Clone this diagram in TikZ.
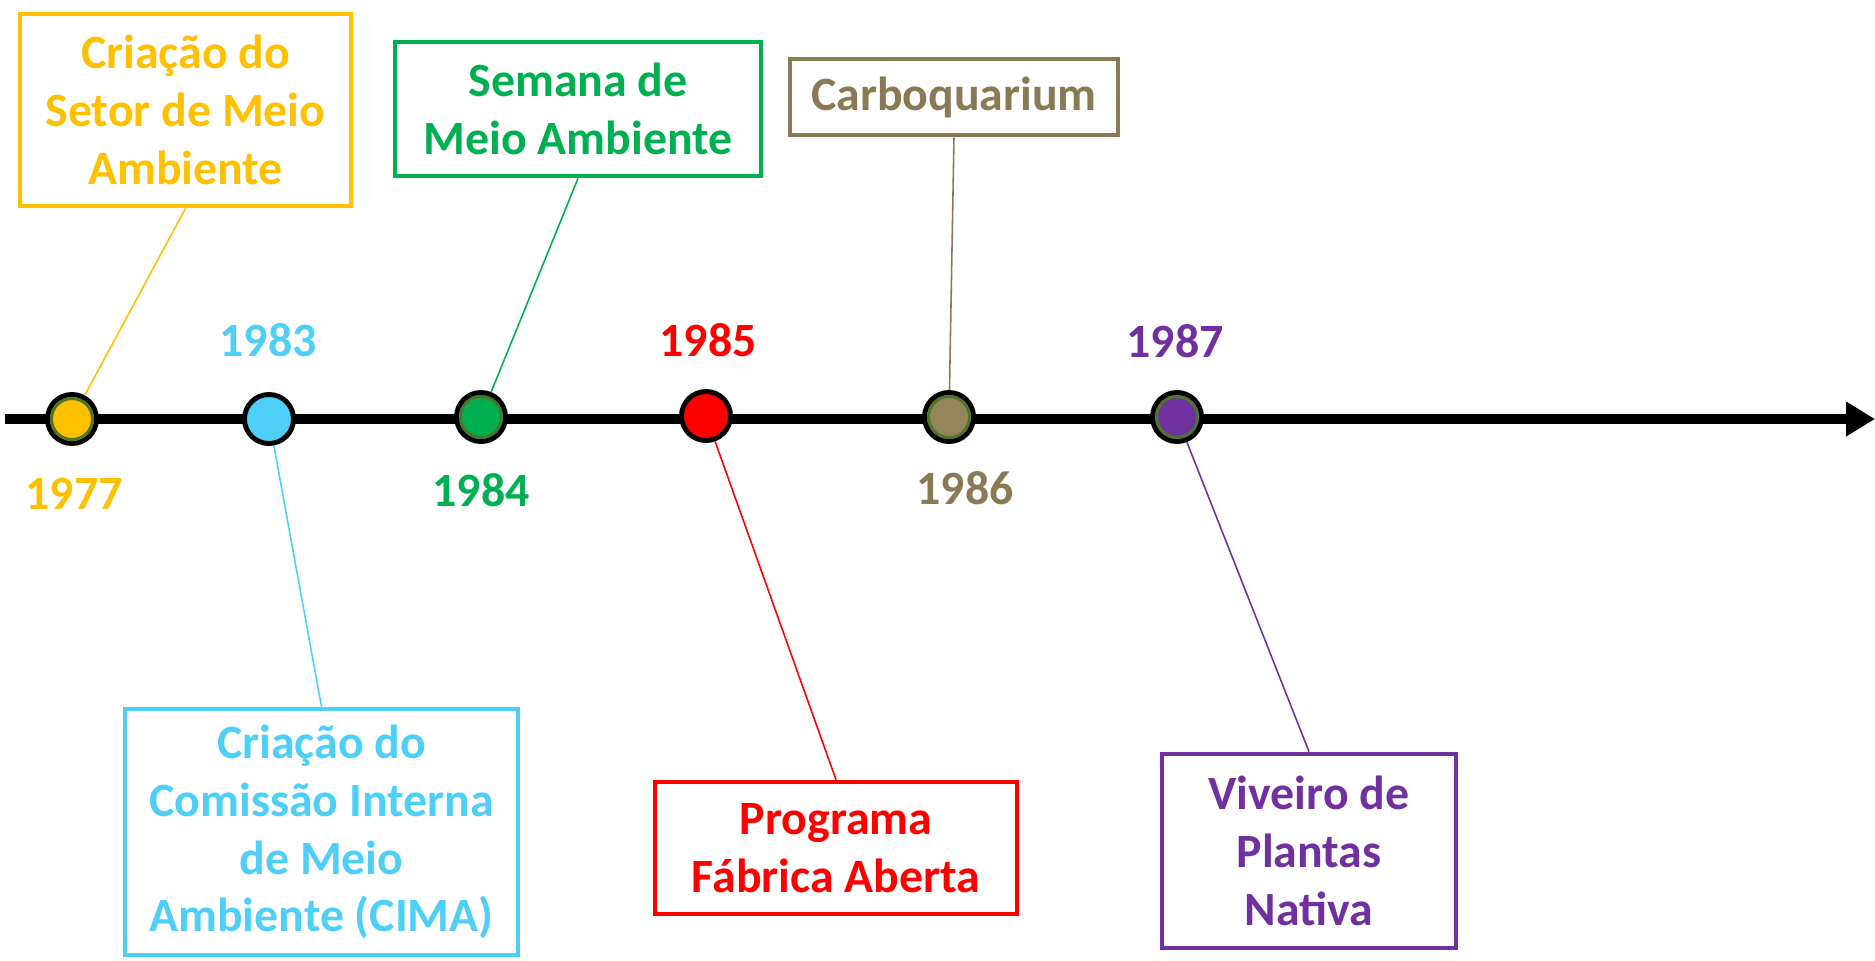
\documentclass[tikz,border=0pt]{standalone}
\usepackage{fontspec}
\setmainfont{Carlito}
\usetikzlibrary{arrows.meta}
\definecolor{myyellow}{HTML}{FFC000}
\definecolor{mycyan}{HTML}{4ECFF8}
\definecolor{mygreen}{HTML}{00B050}
\definecolor{myred}{HTML}{FF0000}
\definecolor{mybrown}{RGB}{138,122,84}
\definecolor{mybrownfill}{RGB}{148,133,90}
\definecolor{mypurple}{HTML}{7030A0}
\definecolor{ringgreen}{RGB}{78,118,42}
\newcommand{\tlfont}{\fontsize{13.6}{16.4}\selectfont\bfseries}
\begin{document}
\begin{tikzpicture}[x=0.01cm,y=-0.01cm,
  box/.style={draw=#1, text=#1, line width=1.3pt, rectangle, inner sep=0pt, align=center, font=\tlfont},
  conn/.style={draw=#1, line width=0.45pt},
  year/.style={text=#1, inner sep=0pt, font=\tlfont},
  dot/.style={circle, draw=black, line width=1.4pt, fill=#1, minimum size=0.49cm, inner sep=0pt},
  ring/.style={draw=ringgreen, line width=0.85pt}
]
\useasboundingbox (0,0) rectangle (1875,960);

% timeline
\coordinate (tlstart) at (5,419);
\coordinate (tlend) at (1875,419);
\draw[line width=3.1pt, -{Triangle[length=0.29cm,width=0.33cm]}] (tlstart) -- (tlend);

% dots
\node[dot=myyellow] (c77) at (72,419) {};
\node[dot=mycyan] (c83) at (269,419) {};
\node[dot=mygreen] (c84) at (481,417) {};
\node[dot=myred] (c85) at (706,416) {};
\node[dot=mybrownfill] (c86) at (949,417) {};
\node[dot=mypurple] (c87) at (1177,417) {};
\draw[ring] (c77.center) circle (0.205cm);
\draw[ring] (c84.center) circle (0.205cm);
\draw[ring] (c86.center) circle (0.205cm);
\draw[ring] (c87.center) circle (0.205cm);

% years
\node[year=myyellow] (y77) at (74,494) {1977};
\node[year=mycyan] (y83) at (268,340) {1983};
\node[year=mygreen] (y84) at (481,490) {1984};
\node[year=myred] (y85) at (708,340) {1985};
\node[year=mybrown] (y86) at (965,488) {1986};
\node[year=mypurple] (y87) at (1175,341) {1987};

% boxes
\node[box=myyellow, minimum width=3.31cm, minimum height=1.92cm] (bA) at (185.5,110)
  {Criação do\\Setor de Meio\\Ambiente};
\node[box=mycyan, minimum width=3.93cm, minimum height=2.46cm] (bB) at (321.5,832)
  {Criação do\\Comissão Interna\\de Meio\\Ambiente (CIMA)};
\node[box=mygreen, minimum width=3.66cm, minimum height=1.34cm] (bC) at (578,109)
  {Semana de\\Meio Ambiente};
\node[box=mybrown, minimum width=3.28cm, minimum height=0.76cm] (bD) at (954,97)
  {Carboquarium};
\node[box=myred, minimum width=3.62cm, minimum height=1.32cm] (bE) at (836,848)
  {Programa\\Fábrica Aberta};
\node[box=mypurple, minimum width=2.94cm, minimum height=1.94cm] (bF) at (1309,851)
  {Viveiro de\\Plantas\\Nativa};

% connectors
\draw[conn=myyellow] (bA.south) -- (c77);
\draw[conn=mycyan] (bB.north) -- (c83);
\draw[conn=mygreen] (bC.south) -- (c84);
\draw[conn=mybrown] (bD.south) -- (c86);
\draw[conn=myred] (bE.north) -- (c85);
\draw[conn=mypurple] (bF.north) -- (c87);
\end{tikzpicture}
\end{document}
